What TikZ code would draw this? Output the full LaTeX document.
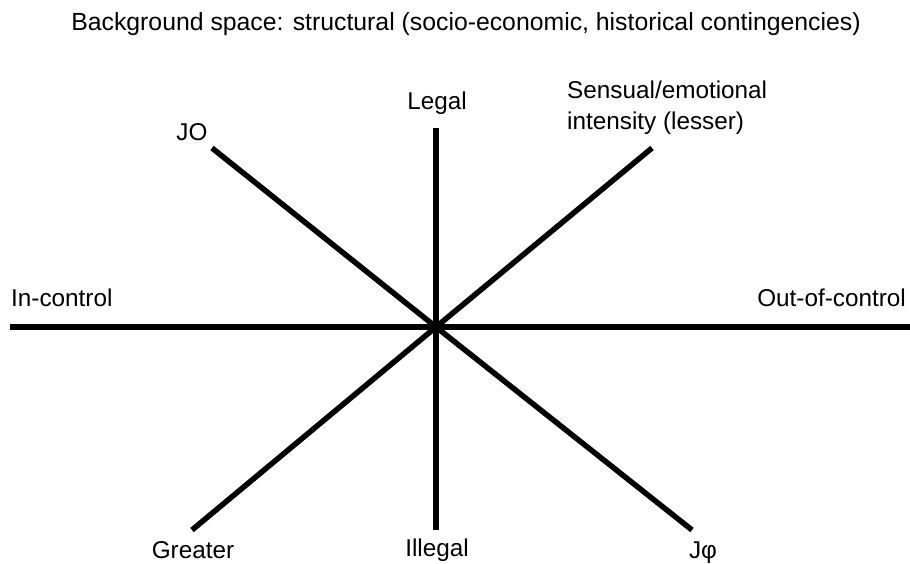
\documentclass[tikz,border=0pt]{standalone}
\usepackage{fontspec}
\setmainfont{Liberation Sans}
\begin{document}
\begin{tikzpicture}[x=1pt,y=-1pt,
  axis/.style={line width=5.5pt,black},
  lbl/.style={inner sep=0pt,font=\fontsize{24.3}{31}\selectfont}]
\useasboundingbox (0,0) rectangle (910,563);
\coordinate (C) at (436,327);
\coordinate (T) at (436,128);
\coordinate (B) at (436,530);
\coordinate (L) at (10,327);
\coordinate (R) at (910,327);
\coordinate (UL) at (212,148);
\coordinate (LR) at (692,530);
\coordinate (UR) at (652,148);
\coordinate (LL) at (192,530);
\draw[axis] (L) -- (C) -- (R);
\draw[axis] (T) -- (C) -- (B);
\draw[axis] (UL) -- (C) -- (LR);
\draw[axis] (UR) -- (C) -- (LL);
\node[lbl,font=\fontsize{24.8}{30}\selectfont] (title) at (466,24) {Background space: structural (socio-economic, historical contingencies)};
\node[lbl] (legal) at (437,103) {Legal};
\node[lbl] (jo) at (192,132) {JO};
\node[lbl,align=left,anchor=west] (sens) at (567,108) {Sensual/emotional\\intensity (lesser)};
\node[lbl,anchor=west] (inc) at (11,298) {In-control};
\node[lbl,anchor=east] (outc) at (906,298) {Out-of-control};
\node[lbl] (greater) at (193,550) {Greater};
\node[lbl] (illegal) at (437,550) {Illegal};
\node[lbl] (jphi) at (703,553) {Jφ};
\end{tikzpicture}
\end{document}
